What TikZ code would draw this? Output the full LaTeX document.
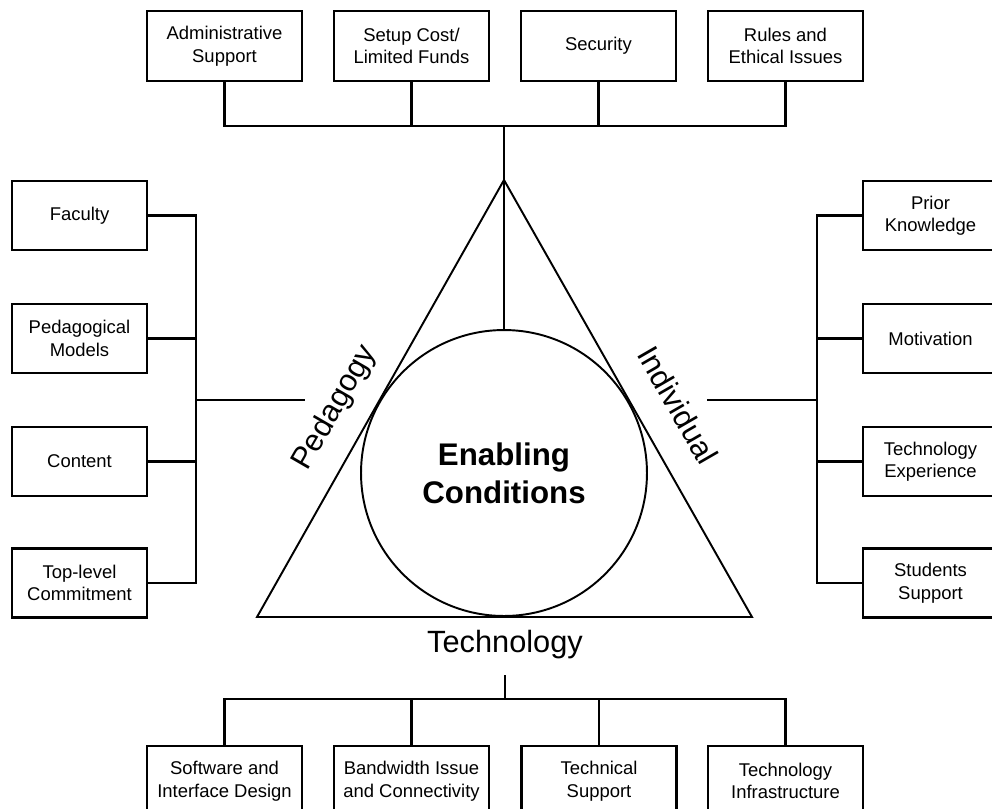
\documentclass[tikz,border=0pt]{standalone}
\usepackage{fontspec}
\setmainfont{Liberation Sans}
\tikzset{
  factor/.style  = {shape=rectangle, draw, line width=1.5pt, align=center,
                    minimum width=3.1cm, minimum height=1.4cm,
                    font=\fontsize{10.5}{12.8}\selectfont},
  sidebox/.style = {factor, minimum width=2.7cm, minimum height=1.38cm},
  core/.style    = {circle, draw, line width=1.1pt, minimum size=5.72cm,
                    align=center, font=\fontsize{17.8}{21.5}\selectfont\bfseries},
  pillar/.style  = {font=\fontsize{17.5}{20}\selectfont},
  link/.style    = {line width=1.3pt}
}
\begin{document}
\begin{tikzpicture}
 [x=0.02cm, y=-0.02cm]

  \useasboundingbox (0,0) rectangle (992,809);
  \clip (0,0) rectangle (992,809);

  \node [factor] (adm)   at (224.5,46) {Administrative\\Support};
  \node [factor] (fund)  at (411.5,46) {Setup Cost/\\Limited Funds};
  \node [factor] (sec)   at (598.5,46) {Security};
  \node [factor] (rules) at (785.5,46) {Rules and\\Ethical Issues};

  \node [sidebox] (fac)  at (79.5,215.5) {Faculty};
  \node [sidebox] (pedm) at (79.5,338.5) {Pedagogical\\Models};
  \node [sidebox] (cont) at (79.5,461.5) {Content};
  \node [sidebox] (comm) at (79.5,583)   {Top-level\\Commitment};

  \node [sidebox] (prior) at (930.5,215.5) {Prior\\Knowledge};
  \node [sidebox] (motiv) at (930.5,338.5) {Motivation};
  \node [sidebox] (texp)  at (930.5,461.5) {Technology\\Experience};
  \node [sidebox] (stud)  at (930.5,583)   {Students\\Support};

  \node [factor] (soft)  at (224.5,781) {Software and\\Interface Design};
  \node [factor] (band)  at (411.5,781) {Bandwidth Issue\\and Connectivity};
  \node [factor] (tsup)  at (599,781)   {Technical\\Support};
  \node [factor] (infra) at (785.5,781) {Technology\\Infrastructure};

  \coordinate (apex)  at (504,180);
  \coordinate (bleft) at (257,617);
  \coordinate (bright) at (752,617);
  \draw [line width=1.1pt] (apex) -- (bleft) -- (bright) -- cycle;

  \node [core] (cond) at (504,473) {Enabling\\Conditions};

  \node [pillar, rotate=60]  (pedlbl)  at (335,408) {Pedagogy};
  \node [pillar, rotate=-60] (indlbl)  at (678,405) {Individual};
  \node [pillar]             (techlbl) at (505,645) {Technology};

  \coordinate (topbus) at (504,126);
  \coordinate (lbus)   at (196,400);
  \coordinate (lend)   at (305,400);
  \coordinate (rbus)   at (817,400);
  \coordinate (rend)   at (707,400);
  \coordinate (tstem)  at (505,675);
  \coordinate (botbus) at (505,699);

  \draw [link] (adm.south) |- (topbus) -| (rules.south);
  \draw [link] (fund.south) -- (fund.south |- topbus);
  \draw [link] (sec.south) -- (sec.south |- topbus);
  \draw [link] (topbus) -- (cond.north);

  \draw [link] (fac.east) -| (lbus) |- (comm.east);
  \draw [link] (pedm.east) -- (pedm.east -| lbus);
  \draw [link] (cont.east) -- (cont.east -| lbus);
  \draw [link] (lbus) -- (lend);

  \draw [link] (prior.west) -| (rbus) |- (stud.west);
  \draw [link] (motiv.west) -- (motiv.west -| rbus);
  \draw [link] (texp.west) -- (texp.west -| rbus);
  \draw [link] (rbus) -- (rend);

  \draw [link] (tstem) -- (botbus);
  \draw [link] (soft.north) |- (botbus) -| (infra.north);
  \draw [link] (band.north) -- (band.north |- botbus);
  \draw [link] (tsup.north) -- (tsup.north |- botbus);
\end{tikzpicture}
\end{document}
